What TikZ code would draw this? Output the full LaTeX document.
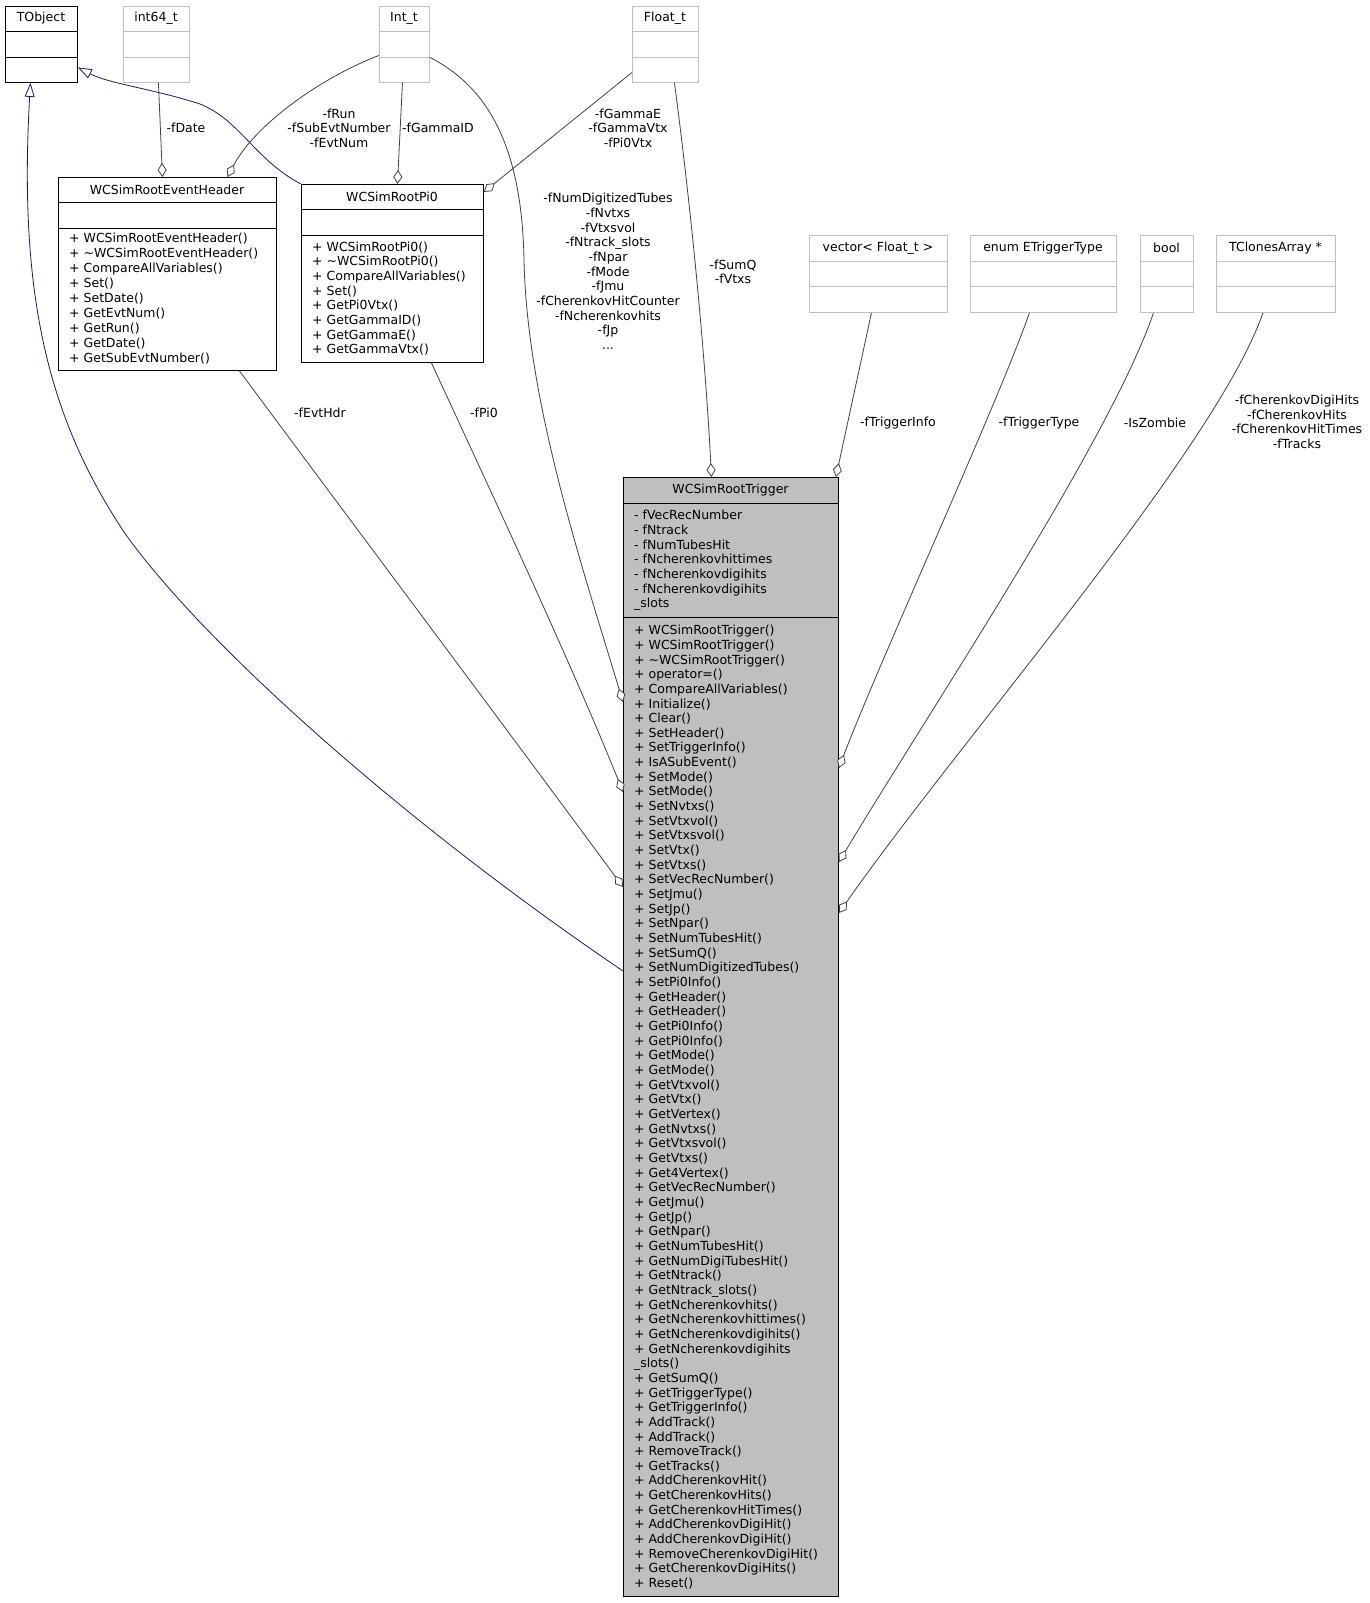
\documentclass[tikz,border=0pt]{standalone}
\usepackage{fontspec}
\setmainfont{DejaVu Sans}
\usetikzlibrary{arrows.meta}
\definecolor{edgec}{HTML}{404040}
\definecolor{inhc}{HTML}{191970}
\definecolor{extc}{HTML}{BFBFBF}
\definecolor{trigfill}{HTML}{BFBFBF}
\begin{document}
\begin{tikzpicture}[x=1pt,y=-1pt,
  font=\fontsize{12.5}{14.66}\selectfont,
  cls/.style={draw=black, line width=0.9pt, rectangle, inner sep=0pt, anchor=north west},
  ext/.style={cls, draw=extc},
  ttl/.style={inner sep=0pt, anchor=center},
  mem/.style={inner sep=0pt, anchor=north west, align=left},
  lbl/.style={inner sep=0pt, align=center},
  div/.style={line width=0.9pt},
  agg/.style={draw=edgec, line width=0.8pt, -{Diamond[length=14pt,width=9pt,fill=white,line width=0.8pt]}},
  inh/.style={draw=inhc, line width=0.8pt, -{Triangle[length=14pt,width=10pt,fill=white,line width=0.8pt]}}]
\useasboundingbox (0,0) rectangle (1369,1603);

% ---------- boxes ----------
\node[cls, minimum width=72pt, minimum height=76pt] (tobj) at (5,6) {};
\draw[div] ([yshift=-25pt]tobj.north west) -- ([yshift=-25pt]tobj.north east);
\draw[div] ([yshift=-51pt]tobj.north west) -- ([yshift=-51pt]tobj.north east);
\node[ttl] (tobjT) at (41,18.5) {TObject};

\node[ext, minimum width=66pt, minimum height=76pt] (i64) at (123,6) {};
\draw[div,extc] ([yshift=-25pt]i64.north west) -- ([yshift=-25pt]i64.north east);
\draw[div,extc] ([yshift=-51pt]i64.north west) -- ([yshift=-51pt]i64.north east);
\node[ttl] (i64T) at (156,18.5) {int64\_t};

\node[ext, minimum width=50pt, minimum height=76pt] (intt) at (379,6) {};
\draw[div,extc] ([yshift=-25pt]intt.north west) -- ([yshift=-25pt]intt.north east);
\draw[div,extc] ([yshift=-51pt]intt.north west) -- ([yshift=-51pt]intt.north east);
\node[ttl] (inttT) at (404,18.5) {Int\_t};

\node[ext, minimum width=66pt, minimum height=76pt] (flt) at (632,6) {};
\draw[div,extc] ([yshift=-25pt]flt.north west) -- ([yshift=-25pt]flt.north east);
\draw[div,extc] ([yshift=-51pt]flt.north west) -- ([yshift=-51pt]flt.north east);
\node[ttl] (fltT) at (665,18.5) {Float\_t};

\node[ext, minimum width=138pt, minimum height=77pt] (vec) at (809,235) {};
\draw[div,extc] ([yshift=-26pt]vec.north west) -- ([yshift=-26pt]vec.north east);
\draw[div,extc] ([yshift=-51pt]vec.north west) -- ([yshift=-51pt]vec.north east);
\node[ttl] (vecT) at (878,248) {vector< Float\_t >};

\node[ext, minimum width=146pt, minimum height=77pt] (enm) at (970,235) {};
\draw[div,extc] ([yshift=-26pt]enm.north west) -- ([yshift=-26pt]enm.north east);
\draw[div,extc] ([yshift=-51pt]enm.north west) -- ([yshift=-51pt]enm.north east);
\node[ttl] (enmT) at (1043,248) {enum ETriggerType};

\node[ext, minimum width=53pt, minimum height=77pt] (bol) at (1140,235) {};
\draw[div,extc] ([yshift=-26pt]bol.north west) -- ([yshift=-26pt]bol.north east);
\draw[div,extc] ([yshift=-51pt]bol.north west) -- ([yshift=-51pt]bol.north east);
\node[ttl] (bolT) at (1166.5,248) {bool};

\node[ext, minimum width=119pt, minimum height=77pt] (tca) at (1216,235) {};
\draw[div,extc] ([yshift=-26pt]tca.north west) -- ([yshift=-26pt]tca.north east);
\draw[div,extc] ([yshift=-51pt]tca.north west) -- ([yshift=-51pt]tca.north east);
\node[ttl] (tcaT) at (1275.5,248) {TClonesArray *};

\node[cls, minimum width=218pt, minimum height=193pt] (evh) at (58,177) {};
\draw[div] ([yshift=-25pt]evh.north west) -- ([yshift=-25pt]evh.north east);
\draw[div] ([yshift=-51pt]evh.north west) -- ([yshift=-51pt]evh.north east);
\node[ttl] (evhT) at (167,189.5) {WCSimRootEventHeader};
\node[mem, font=\fontsize{12.5}{15.0}\selectfont] (evhM) at (69,232.5) {+ WCSimRootEventHeader()\\+ \textasciitilde WCSimRootEventHeader()\\+ CompareAllVariables()\\+ Set()\\+ SetDate()\\+ GetEvtNum()\\+ GetRun()\\+ GetDate()\\+ GetSubEvtNumber()};

\node[cls, minimum width=182pt, minimum height=178pt] (pi0) at (301,184) {};
\draw[div] ([yshift=-25pt]pi0.north west) -- ([yshift=-25pt]pi0.north east);
\draw[div] ([yshift=-51pt]pi0.north west) -- ([yshift=-51pt]pi0.north east);
\node[ttl] (pi0T) at (392,196.5) {WCSimRootPi0};
\node[mem] (pi0M) at (312,241.5) {+ WCSimRootPi0()\\+ \textasciitilde WCSimRootPi0()\\+ CompareAllVariables()\\+ Set()\\+ GetPi0Vtx()\\+ GetGammaID()\\+ GetGammaE()\\+ GetGammaVtx()};

\node[cls, fill=trigfill, minimum width=215pt, minimum height=1119pt] (trig) at (623,477) {};
\draw[div] ([yshift=-26pt]trig.north west) -- ([yshift=-26pt]trig.north east);
\draw[div] ([yshift=-140pt]trig.north west) -- ([yshift=-140pt]trig.north east);
\node[ttl] (trigT) at (730.5,490) {WCSimRootTrigger};
\node[mem] (trigA) at (634,510) {- fVecRecNumber\\- fNtrack\\- fNumTubesHit\\- fNcherenkovhittimes\\- fNcherenkovdigihits\\- fNcherenkovdigihits\\\_slots};
\node[mem] (trigM) at (634,625) {+ WCSimRootTrigger()\\+ WCSimRootTrigger()\\+ \textasciitilde WCSimRootTrigger()\\+ operator=()\\+ CompareAllVariables()\\+ Initialize()\\+ Clear()\\+ SetHeader()\\+ SetTriggerInfo()\\+ IsASubEvent()\\+ SetMode()\\+ SetMode()\\+ SetNvtxs()\\+ SetVtxvol()\\+ SetVtxsvol()\\+ SetVtx()\\+ SetVtxs()\\+ SetVecRecNumber()\\+ SetJmu()\\+ SetJp()\\+ SetNpar()\\+ SetNumTubesHit()\\+ SetSumQ()\\+ SetNumDigitizedTubes()\\+ SetPi0Info()\\+ GetHeader()\\+ GetHeader()\\+ GetPi0Info()\\+ GetPi0Info()\\+ GetMode()\\+ GetMode()\\+ GetVtxvol()\\+ GetVtx()\\+ GetVertex()\\+ GetNvtxs()\\+ GetVtxsvol()\\+ GetVtxs()\\+ Get4Vertex()\\+ GetVecRecNumber()\\+ GetJmu()\\+ GetJp()\\+ GetNpar()\\+ GetNumTubesHit()\\+ GetNumDigiTubesHit()\\+ GetNtrack()\\+ GetNtrack\_slots()\\+ GetNcherenkovhits()\\+ GetNcherenkovhittimes()\\+ GetNcherenkovdigihits()\\+ GetNcherenkovdigihits\\\_slots()\\+ GetSumQ()\\+ GetTriggerType()\\+ GetTriggerInfo()\\+ AddTrack()\\+ AddTrack()\\+ RemoveTrack()\\+ GetTracks()\\+ AddCherenkovHit()\\+ GetCherenkovHits()\\+ GetCherenkovHitTimes()\\+ AddCherenkovDigiHit()\\+ AddCherenkovDigiHit()\\+ RemoveCherenkovDigiHit()\\+ GetCherenkovDigiHits()\\+ Reset()};

% ---------- inheritance ----------
\draw[inh] ([yshift=-494pt]trig.north west) .. controls (400,820) and (200,640) .. (124,532)
   .. controls (50,420) and (18,300) .. ([xshift=-11pt]tobj.south);
\draw[inh] (pi0.north west) .. controls (255,160) and (240,120) .. (200,104)
   .. controls (150,88) and (110,84) .. ([yshift=-23pt]tobj.east);

% ---------- aggregations ----------
\draw[agg] ([xshift=2pt]i64.south) -- ([xshift=-5pt]evh.north);
\node[lbl] (lDate) at (186,128) {-fDate};

\draw[agg] ([yshift=-11pt]intt.west) .. controls (320,78) and (255,125) .. ([xshift=60pt]evh.north);
\node[lbl] (lRun) at (339,128) {-fRun\\-fSubEvtNumber\\-fEvtNum};

\draw[agg] ([xshift=-2pt]intt.south) -- ([xshift=5pt]pi0.north);
\node[lbl] (lGID) at (438,128) {-fGammaID};

\draw[agg] ([yshift=-13pt]intt.east) .. controls (490,88) and (522,150) .. (524,260)
   .. controls (527,400) and (580,560) .. ([yshift=-225pt]trig.north west);
\node[lbl] (lNum) at (608,271.5) {-fNumDigitizedTubes\\-fNvtxs\\-fVtxsvol\\-fNtrack\_slots\\-fNpar\\-fMode\\-fJmu\\-fCherenkovHitCounter\\-fNcherenkovhits\\-fJp\\...};

\draw[agg] ([yshift=-28pt]flt.west) -- ([yshift=-8pt]pi0.north east);
\node[lbl] (lGam) at (628,128) {-fGammaE\\-fGammaVtx\\-fPi0Vtx};

\draw[agg] ([xshift=9pt]flt.south) .. controls (690,200) and (705,350) .. ([xshift=-19.5pt]trig.north);
\node[lbl] (lSum) at (733,272) {-fSumQ\\-fVtxs};

\draw[agg] ([xshift=-7pt]vec.south) -- ([xshift=-3pt]trig.north east);
\node[lbl] (lTI) at (898,423) {-fTriggerInfo};

\draw[agg] ([xshift=-14pt]enm.south) .. controls (995,410) and (880,660) .. ([yshift=-291pt]trig.north east);
\node[lbl] (lTT) at (1039,423) {-fTriggerType};

\draw[agg] ([xshift=-13.5pt]bol.south) .. controls (1110,440) and (930,710) .. ([yshift=-385pt]trig.north east);
\node[lbl] (lZ) at (1155,423) {-IsZombie};

\draw[agg] ([xshift=-13pt]tca.south) .. controls (1215,450) and (960,740) .. ([yshift=-436pt]trig.north east);
\node[lbl] (lCh) at (1297,422) {-fCherenkovDigiHits\\-fCherenkovHits\\-fCherenkovHitTimes\\-fTracks};

\draw[agg] ([xshift=72pt]evh.south) .. controls (350,520) and (500,720) .. ([yshift=-410pt]trig.north west);
\node[lbl] (lEvt) at (320,413) {-fEvtHdr};

\draw[agg] ([xshift=39pt]pi0.south) .. controls (490,490) and (570,660) .. ([yshift=-315pt]trig.north west);
\node[lbl] (lPi0) at (484,413) {-fPi0};

\end{tikzpicture}
\end{document}
